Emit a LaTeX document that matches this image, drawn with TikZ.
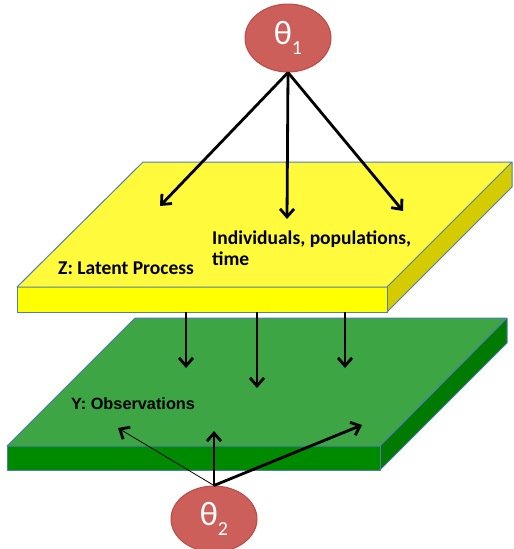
\documentclass[tikz,border=0pt]{standalone}
\usepackage{fontspec}
\setmainfont{Carlito}
\newfontfamily\arialfont{Liberation Sans}
\usetikzlibrary{shapes.geometric,arrows.meta}
\definecolor{ytop}{RGB}{255,250,60}
\definecolor{yfront}{RGB}{255,255,0}
\definecolor{yside}{RGB}{212,204,0}
\definecolor{gtop}{RGB}{61,165,68}
\definecolor{gfront}{RGB}{0,138,0}
\definecolor{gside}{RGB}{0,122,0}
\definecolor{edgeblue}{RGB}{80,125,180}
\definecolor{thfill}{RGB}{205,95,90}
\definecolor{thedge}{RGB}{185,75,72}
\tikzset{
  slabedge/.style={draw=edgeblue, line width=1pt, line join=round},
  theta/.style={ellipse, fill=thfill, draw=thedge, line width=1pt, minimum width=86pt, text=white, font=\fontsize{34}{34}\selectfont, inner sep=0pt},
  arr/.style={line width=2.8pt, -{Straight Barb[length=8pt,width=14pt,line width=2.8pt]}},
  thinarr/.style={line width=0.8pt, -{Straight Barb[length=8pt,width=14pt,line width=2.8pt]}},
  lbl/.style={font=\bfseries\fontsize{19.5}{21}\selectfont, anchor=west, align=left, inner sep=0pt},
  lbly/.style={font=\arialfont\bfseries\fontsize{16.3}{18}\selectfont, anchor=west, inner sep=0pt}
}
\begin{document}
\begin{tikzpicture}[x=1pt,y=-1pt]
\useasboundingbox (0,0) rectangle (514,549);
% green slab
\fill[gfront] (7,446) rectangle (380,470);
\fill[gside] (380,446) -- (507,318) -- (507,343) -- (380,470) -- cycle;
\fill[gtop] (135,318) -- (507,318) -- (380,446) -- (7,446) -- cycle;
\draw[slabedge] (135,318) -- (507,318) -- (380,446) -- (7,446) -- cycle;
\draw[slabedge] (7,446) -- (7,470) -- (380,470) -- (380,446);
\draw[slabedge] (380,470) -- (507,343) -- (507,318);
% yellow slab
\fill[yfront] (17,287) rectangle (387,312);
\fill[yside] (387,287) -- (512,162) -- (512,187) -- (387,312) -- cycle;
\fill[ytop] (143,162) -- (512,162) -- (387,287) -- (17,287) -- cycle;
\draw[slabedge] (143,162) -- (512,162) -- (387,287) -- (17,287) -- cycle;
\draw[slabedge] (17,287) -- (17,312) -- (387,312) -- (387,287);
\draw[slabedge] (387,312) -- (512,187) -- (512,162);
% theta nodes
\node[theta, minimum height=68pt] (t1) at (288,38) {θ\raisebox{-0.3em}{\fontsize{20}{20}\selectfont 1}};
\node[theta, minimum height=66pt] (t2) at (214,519) {θ\raisebox{-0.3em}{\fontsize{20}{20}\selectfont 2}};
% labels
\node[lbl] (ind) at (212,248) {Individuals, populations,\\time};
\node[lbl] (zl) at (58,268) {Z: Latent Process};
\node[lbly] (yl) at (71,404) {Y: Observations};
% coordinates
\coordinate (z1) at (160,206);
\coordinate (z2) at (287,219);
\coordinate (z3) at (403,211);
\coordinate (s1) at (186,312);
\coordinate (s2) at (257,312);
\coordinate (s3) at (345,312);
\coordinate (y1) at (186,368);
\coordinate (y2) at (257,388);
\coordinate (y3) at (345,368);
\coordinate (o1) at (118,428);
\coordinate (o2) at (214,431);
\coordinate (o3) at (362,425);
% arrows
\draw[arr] (t1.south) -- (z1);
\draw[arr] (t1.south) -- (z2);
\draw[arr] (t1.south) -- (z3);
\draw[arr] (s1) -- (y1);
\draw[arr] (s2) -- (y2);
\draw[arr] (s3) -- (y3);
\draw[thinarr] (t2.north) -- (o1);
\draw[arr] (t2.north) -- (o2);
\draw[arr] (t2.north) -- (o3);
\end{tikzpicture}
\end{document}
